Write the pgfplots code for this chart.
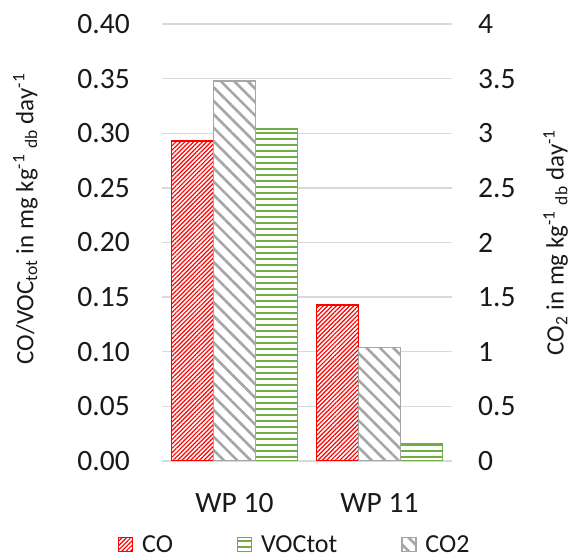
\documentclass[border=0pt]{standalone}
\usepackage{fontspec}
\setmainfont{Carlito}
\usepackage{pgfplots}
\pgfplotsset{compat=1.18}
\usetikzlibrary{patterns.meta}

\definecolor{coRed}{RGB}{255,0,0}
\definecolor{vocGreen}{RGB}{112,173,71}
\definecolor{coGray}{RGB}{166,166,166}
\definecolor{gridGray}{RGB}{217,217,217}
\definecolor{txt}{RGB}{25,25,25}

\pgfplotsset{
  coStyle/.style={draw=coRed, line width=1.5pt, preaction={fill=white},
    pattern={Lines[angle=45,distance=3.1pt,line width=1.2pt]}, pattern color=coRed},
  vocStyle/.style={draw=vocGreen, line width=1.5pt, preaction={fill=white},
    pattern={Lines[angle=0,distance=6pt,line width=2.6pt]}, pattern color=vocGreen},
  co2Style/.style={draw=coGray, line width=1.5pt, preaction={fill=white},
    pattern={Lines[angle=-45,distance=9.5pt,line width=2.6pt]}, pattern color=coGray},
  base/.style={
    scale only axis, width=290pt, height=437pt,
    at={(162pt,98pt)}, anchor=south west,
    xmin=-0.5, xmax=1.5, ymin=0,
    ybar, bar width=42pt,
    axis line style={draw=none}, major tick length=0pt,
    /pgf/number format/assume math mode=true,
    ticklabel style={font=\fontsize{29.5}{31}\selectfont, text=txt},
  },
}

\begin{document}
\begin{tikzpicture}
\useasboundingbox (0,0) rectangle (575pt,559pt);

% left axis: CO and VOCtot
\begin{axis}[base,
  ymax=0.4,
  ytick={0,0.05,0.1,0.15,0.2,0.25,0.3,0.35,0.4},
  ytick pos=left,
  yticklabel style={/pgf/number format/fixed, /pgf/number format/fixed zerofill,
    /pgf/number format/precision=2, anchor=east, inner sep=0pt, xshift=-32pt},
  xtick={0,1}, xticklabels={WP 10, WP 11},
  xticklabel style={anchor=north, inner sep=0pt, yshift=-32pt},
  ymajorgrids, grid style={gridGray, line width=1.3pt},
  ylabel={CO/VOC\textsubscript{tot} in mg kg\textsuperscript{-1} \textsubscript{db} day\textsuperscript{-1}},
  every axis y label/.style={at={(axis description cs:-0.514,0.554)}, rotate=90,
    anchor=north, inner sep=0pt, font=\fontsize{25}{27}\selectfont, text=txt},
  legend columns=3,
  legend image code/.code={\draw[#1, line width=1pt] (0pt,-7pt) rectangle (14pt,7pt);},
  legend style={draw=none, fill=none, inner sep=0pt,
    at={(rel axis cs:0,0)}, anchor=north west, xshift=-44pt, yshift=-74pt,
    font=\fontsize{26}{28}\selectfont, text=txt,
    nodes={inner sep=0pt},
    /tikz/every odd column/.append style={column sep=9pt},
    /tikz/every even column/.append style={column sep=64pt}},
]
\addplot[coStyle, bar shift=-42pt] coordinates {(0,0.293) (1,0.143)};
\addlegendentry{CO}
\addplot[vocStyle, bar shift=42pt] coordinates {(0,0.304) (1,0.016)};
\addlegendentry{VOCtot}
\addlegendimage{co2Style}
\addlegendentry{CO2}
\end{axis}

% right axis: CO2
\begin{axis}[base,
  ymax=4,
  axis y line*=right, hide x axis,
  ytick={0,0.5,1,1.5,2,2.5,3,3.5,4},
  yticklabel style={anchor=west, inner sep=0pt, xshift=26pt},
  ylabel={CO\textsubscript{2} in mg kg\textsuperscript{-1} \textsubscript{db} day\textsuperscript{-1}},
  every axis y label/.style={at={(axis description cs:1.314,0.5)}, rotate=90,
    anchor=north, inner sep=0pt, font=\fontsize{25}{27}\selectfont, text=txt},
]
\addplot[co2Style, bar shift=0pt] coordinates {(0,3.48) (1,1.04)};
\end{axis}
\end{tikzpicture}
\end{document}
